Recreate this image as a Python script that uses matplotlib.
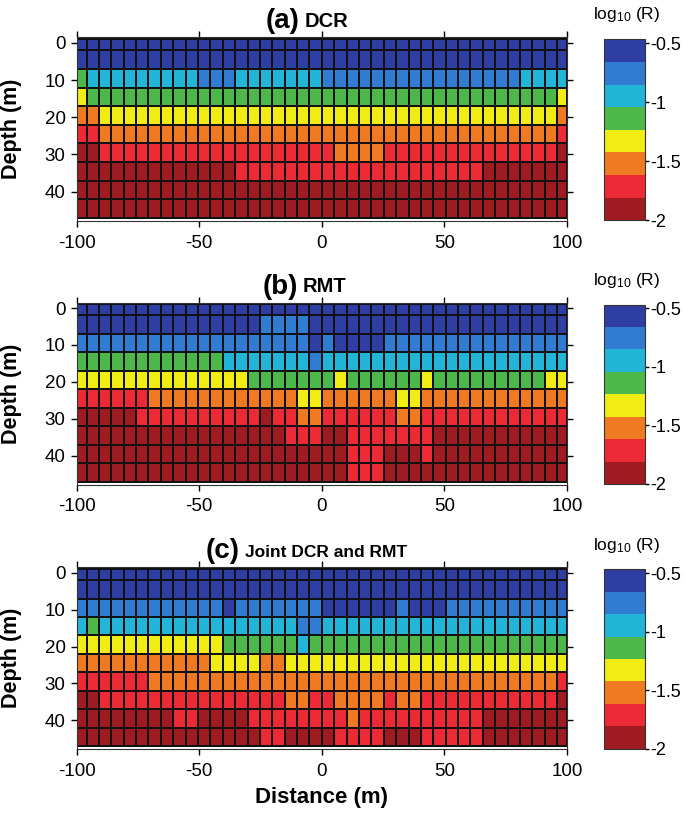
import numpy as np
import matplotlib
matplotlib.use('Agg')
import matplotlib.pyplot as plt
from matplotlib.colors import ListedColormap, BoundaryNorm

plt.rcParams['font.family'] = ['Liberation Sans', 'DejaVu Sans']
plt.rcParams['axes.unicode_minus'] = False
plt.rcParams['mathtext.default'] = 'regular'

# ---------------- data ----------------
# colour classes of the colour bar: 0 = lowest log10(R) (dark red) ... 7 = highest (dark blue)
level_colors = ['#9E1B22', '#EC2A35', '#F07A22', '#F1EC14',
                '#4CB84A', '#23B5D8', '#2F7CD2', '#2F3EA2']
level_values = [-1.90, -1.71, -1.52, -1.33, -1.14, -0.95, -0.75, -0.56]
cbar_min, cbar_max = -2.0, -0.466
cbar_ticks = [-0.5, -1, -1.5, -2]
cbar_ticklabels = ['-0.5', '-1', '-1.5', '-2']

distance_ticks = [-100, -50, 0, 50, 100]
depth_ticks = [0, 10, 20, 30, 40]
layer_bounds = [-1, 2, 7, 12, 17, 22, 27, 32, 37, 42, 47]   # depth of layer boundaries (m)
column_bounds = [-100] + list(np.linspace(-96, 96, 39)) + [100]  # distance of cell boundaries (m)

titles_big = ['(a)', '(b)', '(c)']
titles_small = ['DCR', 'RMT', 'Joint DCR and RMT']

# one string per layer (top -> bottom), one character per column (left -> right)
model_dcr = [
    "7777777777777777777777777777777777777777",
    "7777777777777777777777777777777777777777",
    "4555555555666555555566666666666666665555",
    "3444444444444444444444444444444444444443",
    "2233333333333333333333333333333333333332",
    "1122222222222222222222222222222222222221",
    "0011111111111111111112222111111111111110",
    "0000000000000111111111111111111110000000",
    "0000000000000000000000000000000000000000",
    "0000000000000000000000000000000000000000",
]
model_rmt = [
    "7777777777777777777777777777777777777777",
    "7777777777777776666777777777777777777777",
    "6666666666666666666767777666666666666666",
    "4444444444445555555655555555555555555555",
    "3333333333333344444443444444344444444433",
    "1111112222222222223322222233222222222222",
    "0000011111111110112211111122111111111111",
    "0000000000000000011100111111100000000000",
    "0000000000000000000000111000100000000000",
    "0000000000000000000000111000000000000000",
]
model_joint = [
    "7777777777777777777777777777777777777777",
    "7777777777777777777777777777777777777777",
    "6666666666667666666677777767776666666666",
    "5455555555555555556655555555555555555555",
    "3333333333334444445444444444444444444444",
    "2222222222233332233333333333333333333333",
    "1111112222222222222222222222222222222221",
    "0011111111111111122112222122111111111110",
    "0000000011000011111111211111111110000000",
    "0000000000000001100001111000111110000000",
]
models = [model_dcr, model_rmt, model_joint]

# ---------------- figure ----------------
W, H = 685, 817
fig = plt.figure(figsize=(W / 100, H / 100), dpi=100)

cmap = ListedColormap(level_colors)
bounds = np.linspace(cbar_min, cbar_max, len(level_colors) + 1)
norm = BoundaryNorm(bounds, cmap.N)

# axes boxes in pixels: (top, bottom)
panel_px = [(37.3, 220.7), (302.5, 484.5), (567.3, 749.0)]
ax_left, ax_right = 76.7, 567.0
cb_left, cb_right = 604.3, 645.0

for i, (model, (top, bot)) in enumerate(zip(models, panel_px)):
    ax = fig.add_axes([ax_left / W, 1 - bot / H, (ax_right - ax_left) / W, (bot - top) / H])
    vals = np.array([[level_values[int(c)] for c in row] for row in model])
    mesh = ax.pcolormesh(column_bounds, layer_bounds, vals, cmap=cmap, norm=norm,
                         edgecolor='#111111', linewidth=1.2)
    ax.set_xlim(-100, 100)
    ax.set_ylim(47.8, -1.5)
    ax.set_xticks(distance_ticks)
    ax.set_xticklabels([str(t) for t in distance_ticks])
    ax.set_yticks(depth_ticks)
    ax.tick_params(direction='out', length=4, width=1, top=True, right=True,
                   labelsize=13.5)
    ax.tick_params(axis='x', pad=6)
    ax.tick_params(axis='y', pad=4)
    for sp in ax.spines.values():
        sp.set_linewidth(0.8)
        sp.set_color('#333333')
    ax.set_ylabel('Depth (m)', fontsize=15.5, fontweight='bold')
    ax.yaxis.set_label_coords(-0.112, 0.5)
    if i == 2:
        ax.set_xlabel('Distance (m)', fontsize=16, fontweight='bold', labelpad=5)

    # title
    tx = [0.455, 0.451, 0.333][i]
    small_size = [14.5, 14.5, 12.5][i]
    ax.text(tx, 1.049, titles_big[i], transform=ax.transAxes, ha='right', va='baseline',
            fontsize=20, fontweight='bold')
    ax.text(tx + 0.01, 1.058, titles_small[i], transform=ax.transAxes, ha='left', va='baseline',
            fontsize=small_size, fontweight='bold')

    # colour bar
    cax = fig.add_axes([cb_left / W, 1 - (bot - 0.5) / H, (cb_right - cb_left) / W, (bot - top - 2.5) / H])
    cb = fig.colorbar(mesh, cax=cax, ticks=cbar_ticks)
    cb.minorticks_off()
    cb.ax.set_yticklabels(cbar_ticklabels)
    cb.ax.tick_params(direction='out', length=3, width=1, labelsize=13, pad=1)
    cb.outline.set_linewidth(0.8)
    cb.outline.set_edgecolor('#333333')
    cax.text(-0.28, 1.11, r'$\mathregular{log_{10}}$ (R)', transform=cax.transAxes,
             ha='left', va='baseline', fontsize=12.5)

fig.savefig('out.png', dpi=100)
